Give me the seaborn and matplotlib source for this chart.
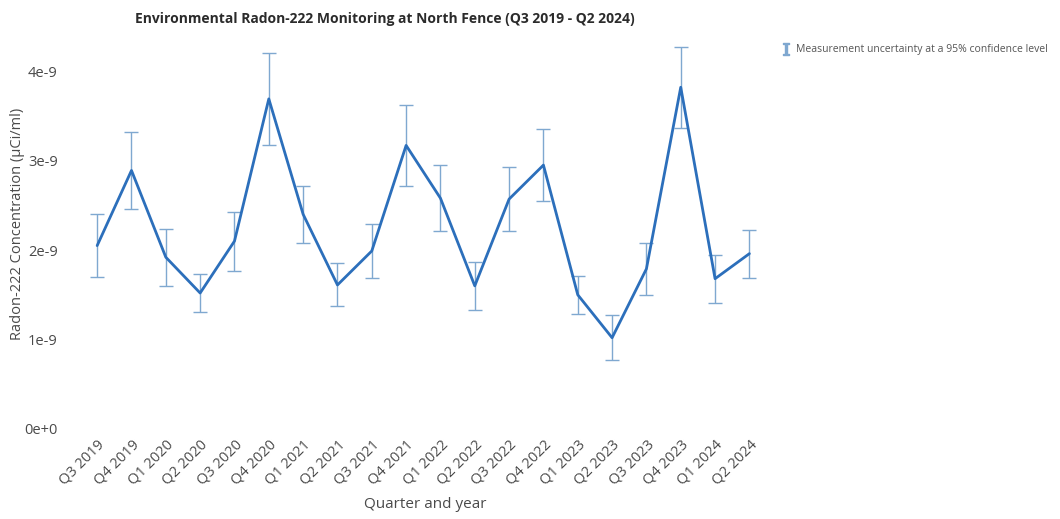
import matplotlib
matplotlib.use("Agg")
import matplotlib.pyplot as plt
from matplotlib.lines import Line2D
from matplotlib.ticker import FuncFormatter
import numpy as np
import pandas as pd
import seaborn as sns

quarters = ["Q3 2019", "Q4 2019", "Q1 2020", "Q2 2020", "Q3 2020", "Q4 2020",
            "Q1 2021", "Q2 2021", "Q3 2021", "Q4 2021", "Q1 2022", "Q2 2022",
            "Q3 2022", "Q4 2022", "Q1 2023", "Q2 2023", "Q3 2023", "Q4 2023",
            "Q1 2024", "Q2 2024"]
# Radon-222 concentration, uCi/ml
concentration = [2.05e-9, 2.89e-9, 1.92e-9, 1.52e-9, 2.10e-9, 3.69e-9,
                 2.40e-9, 1.61e-9, 1.99e-9, 3.17e-9, 2.58e-9, 1.60e-9,
                 2.57e-9, 2.95e-9, 1.50e-9, 1.02e-9, 1.79e-9, 3.82e-9,
                 1.68e-9, 1.96e-9]
# 95% confidence half-width
uncertainty = [0.35e-9, 0.43e-9, 0.32e-9, 0.21e-9, 0.33e-9, 0.51e-9,
               0.32e-9, 0.24e-9, 0.30e-9, 0.45e-9, 0.37e-9, 0.27e-9,
               0.36e-9, 0.40e-9, 0.21e-9, 0.25e-9, 0.29e-9, 0.45e-9,
               0.27e-9, 0.27e-9]
y_ticks = [0.0, 1e-9, 2e-9, 3e-9, 4e-9]

df = pd.DataFrame({"quarter": quarters, "conc": concentration, "err": uncertainty})
df["pos"] = np.arange(len(df))

sns.set_theme(style="white")
plt.rcParams["font.family"] = ["Open Sans", "DejaVu Sans"]

fig = plt.figure(figsize=(10.6, 5.19), dpi=100)
ax = fig.add_axes([80 / 1060, 1 - 429 / 519, 690 / 1060, 399 / 519])

line_color = "#2c6fbb"
err_color = "#7fa8d0"

ax.errorbar(df["pos"], df["conc"], yerr=df["err"], fmt="none",
            ecolor=err_color, elinewidth=1.0, capsize=5, capthick=1.0, zorder=2)
sns.lineplot(data=df, x="pos", y="conc", ax=ax, color=line_color,
             linewidth=2.0, zorder=3, legend=False)

ax.set_xlim(-0.5, 19.6)
ax.set_ylim(0, 4.46e-9)
ax.set_yticks(y_ticks)


def sci_label(v, _):
    if v == 0:
        return "0e+0"
    exp = int(np.floor(np.log10(abs(v)) + 1e-9))
    mant = v / 10 ** exp
    sign = "+" if exp >= 0 else "-"
    return f"{mant:.0f}e{sign}{abs(exp)}"


ax.yaxis.set_major_formatter(FuncFormatter(sci_label))
ax.set_xticks(df["pos"])
ax.set_xticklabels(quarters, rotation=45, ha="right", rotation_mode="anchor")

text_color = "#4a4a4a"
ax.tick_params(axis="both", length=0, labelsize=10.5, labelcolor=text_color)
ax.tick_params(axis="x", pad=6)
ax.tick_params(axis="y", pad=16)
for s in ax.spines.values():
    s.set_visible(False)

ax.set_xlabel("Quarter and year", fontsize=11, color=text_color, labelpad=6)
ax.set_ylabel("Radon-222 Concentration (µCi/ml)", fontsize=10.5,
              color=text_color)
ax.yaxis.set_label_coords(-0.08, 0.515)

fig.text(385 / 1060, 1 - 19 / 519,
         "Environmental Radon-222 Monitoring at North Fence (Q3 2019 - Q2 2024)",
         ha="center", va="center", fontsize=10, fontweight="bold", color="#2b2b2b")

handle = Line2D([], [], linestyle="none", marker=r"$\mathtt{I}$",
                markersize=9, color=err_color)
fig.legend(handles=[handle], labels=["Measurement uncertainty at a 95% confidence level"],
           loc="upper left", bbox_to_anchor=(772 / 1060, 1 - 35 / 519),
           frameon=False, fontsize=7.5, labelcolor="#555555",
           handlelength=0.8, handletextpad=0.6)

fig.savefig("out.png", dpi=100)
